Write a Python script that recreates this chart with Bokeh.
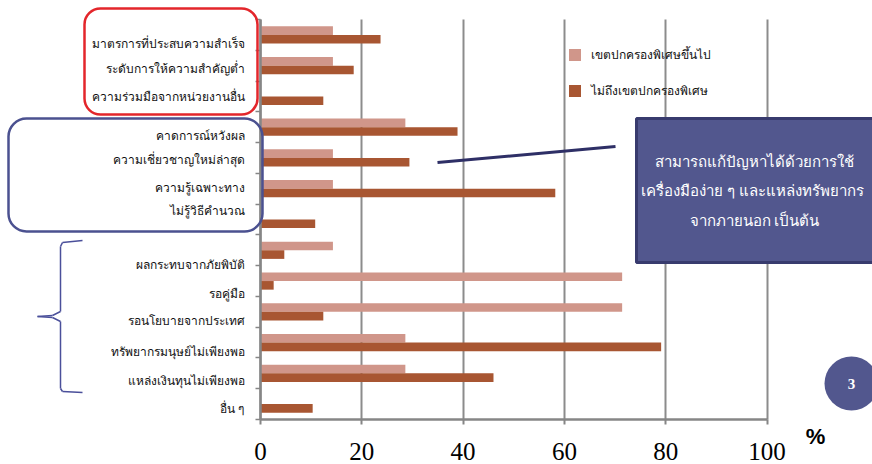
from bokeh.plotting import figure
from bokeh.models import (Range1d, FixedTicker, BoxAnnotation, Label, Arrow,
                          ColumnDataSource)
from bokeh.embed import file_html
from bokeh.resources import INLINE

# ---------------- data ----------------
categories = [
    "มาตรการที่ประสบความสำเร็จ",
    "ระดับการให้ความสำคัญต่ำ",
    "ความร่วมมือจากหน่วยงานอื่น",
    "คาดการณ์หวังผล",
    "ความเชี่ยวชาญใหม่ล่าสุด",
    "ความรู้เฉพาะทาง",
    "ไม่รู้วิธีคำนวณ",
    "ผลกระทบจากภัยพิบัติ",
    "รอคู่มือ",
    "รอนโยบายจากประเทศ",
    "ทรัพยากรมนุษย์ไม่เพียงพอ",
    "แหล่งเงินทุนไม่เพียงพอ",
    "อื่น ๆ",
]
special_and_above = [14.3, 14.3, 0, 28.6, 14.3, 14.3, 0, 14.3, 71.4, 71.4, 28.6, 28.6, 0]
below_special = [23.7, 18.4, 12.4, 38.9, 29.4, 58.2, 10.8, 4.7, 2.6, 12.4, 79.1, 46.0, 10.3]
series_names = ["เขตปกครองพิเศษขึ้นไป", "ไม่ถึงเขตปกครองพิเศษ"]
x_ticks = [0, 20, 40, 60, 80, 100]
callout_lines = ["สามารถแก้ปัญหาได้ด้วยการใช้",
                 "เครื่องมือง่าย ๆ  และแหล่งทรัพยากร",
                 "จากภายนอก เป็นต้น"]
page_number = "3"

# ---------------- layout ----------------
W, H = 872, 464
PLOT_L, PLOT_T, PLOT_B = 260, 19, 419      # pixel box of the chart area
PX_PER_PCT = 5.065
n = len(categories)
UNIT = 100                                  # data units per category row
PX_PER_UNIT = (PLOT_B - PLOT_T) / (n * UNIT)
# per-row downward shift (px) of the category text relative to the bar pair
LABEL_SHIFT_PX = [9, 3, 0, 8, 2, -1, -9, 14, 12, 9, 9, 7, 4]

THAI = "Noto Sans"
LIGHT = "#d0968a"
DARK = "#a85632"
SLATE = "#52578e"
GRAY = "#868686"

centers = [UNIT * (n - i) - UNIT / 2 for i in range(n)]
off = UNIT * 0.14
bar_h = UNIT * 0.28

src_a = ColumnDataSource(dict(y=[c + off for c in centers], v=special_and_above))
src_b = ColumnDataSource(dict(y=[c - off for c in centers], v=below_special))

p = figure(width=W, height=H,
           x_range=Range1d(-PLOT_L / PX_PER_PCT, (W - PLOT_L) / PX_PER_PCT),
           y_range=Range1d(-(H - PLOT_B) / PX_PER_UNIT,
                           n * UNIT + PLOT_T / PX_PER_UNIT),
           output_backend="svg", toolbar_location=None, min_border=0)
p.outline_line_color = None
p.background_fill_color = "white"
p.border_fill_color = "white"

p.hbar(y="y", left=0, right="v", height=bar_h, source=src_a,
       fill_color=LIGHT, line_color=None, legend_label=series_names[0])
p.hbar(y="y", left=0, right="v", height=bar_h, source=src_b,
       fill_color=DARK, line_color=None, legend_label=series_names[1])

# x axis (drawn at the bottom of the category block)
xt = FixedTicker(ticks=x_ticks, minor_ticks=[])
xa = p.xaxis[0]
xa.fixed_location = 0
xa.ticker = xt
xa.bounds = (0, 100)
xa.axis_line_color = GRAY
xa.axis_line_width = 2.5
xa.major_tick_line_color = GRAY
xa.major_tick_line_width = 2
xa.major_tick_out = 5
xa.major_tick_in = 0
xa.minor_tick_line_color = None
xa.major_label_text_font = "Liberation Serif"
xa.major_label_text_font_size = "25px"
xa.major_label_text_color = "black"
xa.major_label_standoff = 18

g = p.xgrid[0]
g.ticker = xt
g.grid_line_color = "#8c8c8c"
g.grid_line_width = 2
if "cross_bounds" in g.properties():
    g.cross_bounds = (0, n * UNIT)
p.ygrid.visible = False

# y axis (at x = 0)
label_pos = [int(round(c - s / PX_PER_UNIT)) for c, s in zip(centers, LABEL_SHIFT_PX)]
ya = p.yaxis[0]
ya.fixed_location = 0
ya.bounds = (0, n * UNIT)
ya.ticker = FixedTicker(ticks=label_pos,
                        minor_ticks=[UNIT * k for k in range(n + 1)])
ya.major_label_overrides = {lp: cat for lp, cat in zip(label_pos, categories)}
ya.axis_line_color = GRAY
ya.axis_line_width = 2.5
ya.major_tick_line_color = None
ya.major_tick_out = 0
ya.major_tick_in = 0
ya.minor_tick_line_color = GRAY
ya.minor_tick_line_width = 1.5
ya.minor_tick_out = 5
ya.minor_tick_in = 0
ya.major_label_standoff = 11
ya.major_label_text_font = THAI
ya.major_label_text_font_size = "12px"
ya.major_label_text_color = "#111111"

# legend
lg = p.legend[0]
lg.location = (566.5, H - 99.5)
lg.padding = 0
lg.margin = 0
lg.spacing = 17
lg.glyph_width = 15
lg.glyph_height = 15
lg.label_height = 15
lg.label_standoff = 9
lg.label_text_font = THAI
lg.label_text_font_size = "12px"
lg.label_text_color = "#111111"
lg.border_line_color = None
lg.background_fill_alpha = 0


def sx(px):
    return px


def sy(py):
    return H - py


def box(l, t, r, b, **kw):
    p.add_layout(BoxAnnotation(left=sx(l), right=sx(r), top=sy(t), bottom=sy(b),
                               left_units="screen", right_units="screen",
                               top_units="screen", bottom_units="screen",
                               level="overlay", line_alpha=1, **kw))


def seg(x0, y0, x1, y1, color, width):
    p.add_layout(Arrow(x_start=sx(x0), y_start=sy(y0), x_end=sx(x1), y_end=sy(y1),
                       start_units="screen", end_units="screen", end=None,
                       line_color=color, line_width=width, level="overlay"))


# rounded highlight boxes on the left
box(84, 8, 257, 114, fill_alpha=0, line_color="#e3262b", line_width=2.5,
    border_radius=16)
box(8, 118, 262, 231, fill_alpha=0, line_color="#4b5190", line_width=2.5,
    border_radius=18)

# curly brace
BR = "#4a4f9a"
brace = [(82, 240, 62, 242), (62, 242, 60, 246), (60, 246, 60, 311),
         (60, 311, 52, 315), (52, 315, 37, 316), (37, 316, 52, 317),
         (52, 317, 60, 321), (60, 321, 60, 388), (60, 388, 62, 391),
         (62, 391, 82, 392)]
for s in brace:
    seg(*s, BR, 1.5)

# connector line and callout
seg(437, 162, 615, 146, "#2e2f66", 3)
box(636, 118, 890, 262, fill_color=SLATE, fill_alpha=1, line_color="#383b6e",
    line_width=3)
for i, t in enumerate(callout_lines):
    p.add_layout(Label(x=sx(754), y=sy(160 + i * 29.5), x_units="screen",
                       y_units="screen", text=t, text_align="center",
                       text_baseline="middle", text_color="white",
                       text_font=THAI, text_font_size="15px", level="overlay"))

# page-number circle
box(824, 356, 878, 410, fill_color=SLATE, fill_alpha=1, line_color=None,
    border_radius=27)
p.add_layout(Label(x=sx(851), y=sy(383), x_units="screen", y_units="screen",
                   text=page_number, text_align="center", text_baseline="middle",
                   text_color="white", text_font="Liberation Serif",
                   text_font_style="bold", text_font_size="15px", level="overlay"))

# percent sign
p.add_layout(Label(x=sx(815), y=sy(436), x_units="screen", y_units="screen",
                   text="%", text_align="center", text_baseline="middle",
                   text_color="black", text_font="Liberation Sans",
                   text_font_style="bold", text_font_size="22px", level="overlay"))

open("out.html", "w").write(file_html(p, INLINE))
